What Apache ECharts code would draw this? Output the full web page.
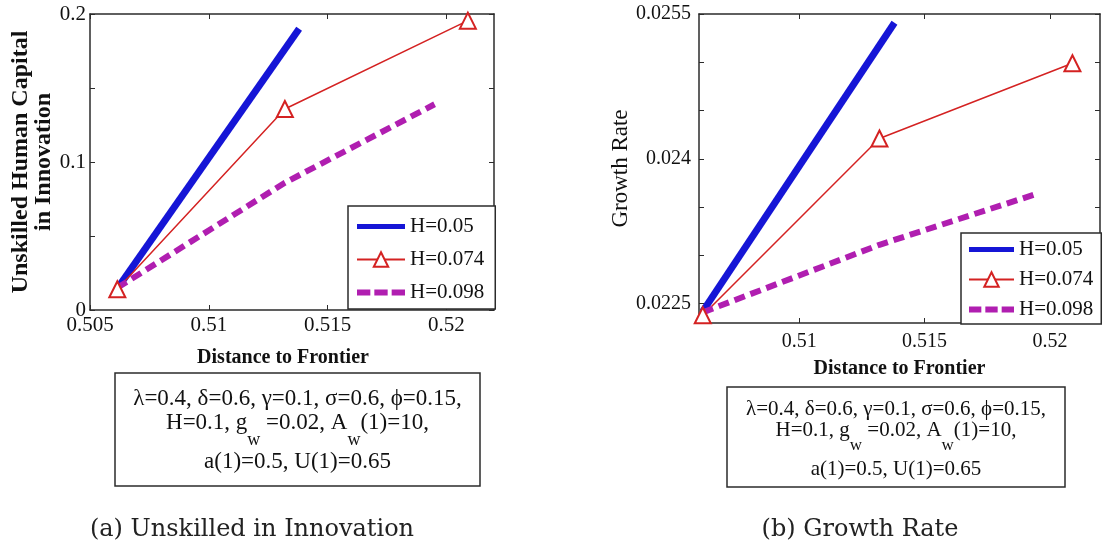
<!DOCTYPE html>
<html>
<head>
<meta charset="utf-8">
<script src="https://cdn.jsdelivr.net/npm/echarts@6/dist/echarts.min.js"></script>
<style>
  html, body { margin: 0; padding: 0; background: #fff; }
  #chart { width: 1106px; height: 550px; }
</style>
</head>
<body>
<div id="chart"></div>
<script>
// Distance to frontier (x) for each human-capital level H
const distH050 = [0.50615, 0.5138];
const distH074 = [0.50615, 0.5132, 0.5209];
const distH098 = [0.50615, 0.5132, 0.5195];

// (a) Unskilled human capital in innovation
const unskilledH050 = [0.0145, 0.190];
const unskilledH074 = [0.014, 0.1358, 0.1955];
const unskilledH098 = [0.015, 0.086, 0.139];

// (b) Growth rate
const growthH050 = [0.02242, 0.02541];
const growthH074 = [0.02238, 0.02421, 0.02499];
const growthH098 = [0.02241, 0.02311, 0.02364];

const seriesNames = ['H=0.05', 'H=0.074', 'H=0.098'];

// Axis ticks and labels
const xTicksA = [0.505, 0.51, 0.515, 0.52];
const xLabelsA = [0.505, 0.51, 0.515, 0.52];
const yTicksA = [0, 0.05, 0.1, 0.15, 0.2];
const yLabelsA = [0, 0.1, 0.2];
const xTicksB = [0.51, 0.515, 0.52];
const xLabelsB = [0.51, 0.515, 0.52];
const yTicksB = [0.0225, 0.023, 0.0235, 0.024, 0.0245, 0.025, 0.0255];
const yLabelsB = [0.0225, 0.024, 0.0255];

const SERIF = '"Liberation Serif", "Times New Roman", serif';
const BLUE = '#1515d6';
const RED = '#d42222';
const MAGENTA = '#b01eb0';
const FRAME = '#2b2b2b';

const zip = (xs, ys) => xs.map((x, i) => [x, ys[i]]);

function frameAxis(extra) {
  return Object.assign({
    type: 'value',
    axisLine: { show: true, onZero: false, lineStyle: { color: FRAME, width: 1.5 } },
    splitLine: { show: false },
    axisLabel: { show: false }
  }, extra);
}

function ticks(values) {
  return { show: true, inside: true, length: 5, customValues: values, lineStyle: { color: FRAME, width: 1 } };
}

function makeAxes(gridIndex, cfg) {
  const xs = [
    frameAxis({
      gridIndex, position: 'bottom', min: cfg.xr[0], max: cfg.xr[1],
      axisTick: ticks(cfg.xt),
      axisLabel: { show: true, customValues: cfg.xl, fontFamily: SERIF, fontSize: cfg.fs, color: '#111', margin: cfg.xMargin },
      name: 'Distance to Frontier', nameLocation: 'middle', nameGap: cfg.xGap,
      nameTextStyle: { fontFamily: SERIF, fontWeight: 'bold', fontSize: 20, color: '#111', padding: cfg.xNamePad }
    }),
    frameAxis({ gridIndex, position: 'top', min: cfg.xr[0], max: cfg.xr[1], axisTick: ticks(cfg.xt) })
  ];
  const ys = [
    frameAxis({
      gridIndex, position: 'left', min: cfg.yr[0], max: cfg.yr[1],
      axisTick: ticks(cfg.yt),
      axisLabel: { show: true, customValues: cfg.yl, fontFamily: SERIF, fontSize: cfg.fs, color: '#111', margin: cfg.yMargin },
      name: cfg.yName, nameLocation: 'middle', nameGap: cfg.yGap,
      nameTextStyle: Object.assign({ fontFamily: SERIF, color: '#111', align: 'center' }, cfg.yNameStyle)
    }),
    frameAxis({ gridIndex, position: 'right', min: cfg.yr[0], max: cfg.yr[1], axisTick: ticks(cfg.yt) })
  ];
  return { xs, ys };
}

const axA = makeAxes(0, {
  xr: [0.505, 0.522], yr: [0, 0.2], xt: xTicksA, xl: xLabelsA, yt: yTicksA, yl: yLabelsA,
  fs: 21, xMargin: 5, yMargin: 4, xGap: 38, xNamePad: [0, 18, 0, 0],
  yName: 'Unskilled Human Capital\nin Innovation', yNameStyle: { fontWeight: 'bold', fontSize: 24, lineHeight: 23 }, yGap: 31
});
const axB = makeAxes(1, {
  xr: [0.506, 0.522], yr: [0.0223, 0.0255], xt: xTicksB, xl: xLabelsB, yt: yTicksB, yl: yLabelsB,
  fs: 20, xMargin: 9, yMargin: 8, xGap: 36, xNamePad: 0,
  yName: 'Growth Rate', yNameStyle: { fontWeight: 'normal', fontSize: 23 }, yGap: 62
});

function seriesFor(xIdx, yIdx, ysH050, ysH074, ysH098) {
  return [
    {
      name: seriesNames[0], type: 'line', xAxisIndex: xIdx, yAxisIndex: yIdx,
      data: zip(distH050, ysH050), symbol: 'none', silent: true,
      lineStyle: { color: BLUE, width: 7 }, itemStyle: { color: BLUE }
    },
    {
      name: seriesNames[1], type: 'line', xAxisIndex: xIdx, yAxisIndex: yIdx,
      data: zip(distH074, ysH074), symbol: 'emptyTriangle', symbolSize: 16, showAllSymbol: true, silent: true,
      lineStyle: { color: RED, width: 1.5 }, itemStyle: { color: RED, borderColor: RED, borderWidth: 1.6 }
    },
    {
      name: seriesNames[2], type: 'line', xAxisIndex: xIdx, yAxisIndex: yIdx,
      data: zip(distH098, ysH098), symbol: 'none', silent: true,
      lineStyle: { color: MAGENTA, width: 6, type: [11, 6] }, itemStyle: { color: MAGENTA }
    }
  ];
}

// Legend keys: a solid band for H=0.05, a line with triangle for H=0.074, dashes for H=0.098
function legendAt(left, top, iconW, padding, gap) {
  const band = 'path://M0,0M' + iconW + ',18M0,6.5H' + iconW + 'V11.5H0Z';
  const d = (iconW - 8) / 3;
  let dash = 'path://M0,0M' + iconW + ',18';
  for (let i = 0; i < 3; i++) {
    const x0 = i * (d + 4);
    dash += 'M' + x0 + ',6H' + (x0 + d) + 'V12H' + x0 + 'Z';
  }
  return {
    orient: 'vertical', left, top,
    backgroundColor: '#fff', borderColor: FRAME, borderWidth: 1.5,
    padding, itemGap: gap, itemWidth: iconW, itemHeight: 18,
    selectedMode: false, symbolKeepAspect: false,
    textStyle: { fontFamily: SERIF, fontSize: 21, color: '#111' },
    data: [
      { name: seriesNames[0], icon: band, itemStyle: { color: BLUE, borderWidth: 0 } },
      { name: seriesNames[1] },
      { name: seriesNames[2], icon: dash, itemStyle: { color: MAGENTA, borderWidth: 0 } }
    ]
  };
}

function paramBox(cx, top, w, h, fs, lineYs) {
  const left = cx - w / 2;
  const base = { fontFamily: SERIF, fontSize: fs, fill: '#111', align: 'center', verticalAlign: 'middle' };
  return {
    type: 'group', children: [
      { type: 'rect', shape: { x: left, y: top, width: w, height: h }, style: { fill: '#fff', stroke: FRAME, lineWidth: 1.5 } },
      { type: 'text', x: cx, y: lineYs[0], style: Object.assign({ text: 'λ=0.4, δ=0.6, γ=0.1, σ=0.6, ϕ=0.15,' }, base) },
      { type: 'text', x: cx, y: lineYs[1], style: Object.assign({
          text: 'H=0.1, g{s|w} =0.02, A{s|w}(1)=10,',
          rich: { s: { fontFamily: SERIF, fontSize: Math.round(fs * 0.8), fill: '#111', padding: [Math.round(fs * 1.5), 0, 0, 0] } }
        }, base) },
      { type: 'text', x: cx, y: lineYs[2], style: Object.assign({ text: 'a(1)=0.5, U(1)=0.65' }, base) }
    ]
  };
}

const CAPTION = { fontFamily: '"DejaVu Serif", serif', fontSize: 24, fill: '#222', align: 'center', verticalAlign: 'middle' };

const chart = echarts.init(document.getElementById('chart'), null, { renderer: 'canvas' });
chart.setOption({
  backgroundColor: '#fff',
  animation: false,
  grid: [
    { left: 90, top: 14, width: 404, height: 296 },
    { left: 699, top: 14, width: 401, height: 309 }
  ],
  xAxis: axA.xs.concat(axB.xs),
  yAxis: axA.ys.concat(axB.ys),
  legend: [
    legendAt(348, 206, 48, [10, 11, 6, 8], 12),
    legendAt(961, 233, 45, [6, 8, 4, 7], 9)
  ],
  series: seriesFor(0, 0, unskilledH050, unskilledH074, unskilledH098)
    .concat(seriesFor(2, 2, growthH050, growthH074, growthH098)),
  graphic: [
    paramBox(297.5, 373, 365, 113, 23, [399, 423, 462]),
    paramBox(896, 387, 338, 100, 21, [409, 430, 469]),
    { type: 'text', x: 252, y: 530, style: Object.assign({ text: '(a) Unskilled in Innovation' }, CAPTION) },
    { type: 'text', x: 860, y: 530, style: Object.assign({ text: '(b) Growth Rate' }, CAPTION) }
  ]
});
</script>
</body>
</html>
